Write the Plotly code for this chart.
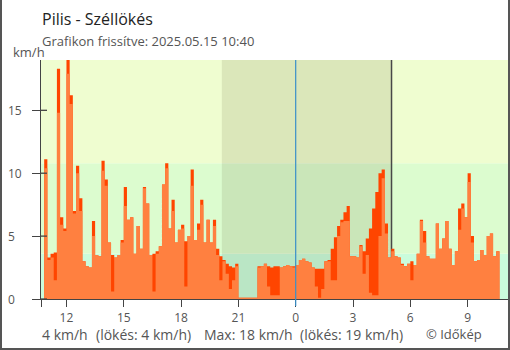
import pandas as pd
import plotly.graph_objects as go

TITLE = "Pilis - Széllökés"
SUBTITLE = "Grafikon frissítve: 2025.05.15 10:40"
CREDIT = "© Időkép"
UNIT = "km/h"

# 10-minute readings starting 2025-05-14 10:50 (km/h)
szel = [
    10.4, 3.1, 3.3, 1.5, 14.8, 5.9, 5.4, 17.9, 15.5, 6.8,
    10.0, 7.0, 3.0, 2.6, 2.5, 5.0, 3.5, 3.4, 10.2, 9.0,
    4.5, 0.6, 3.3, 3.5, 4.5, 7.4, 6.3, 6.5, 3.6, 5.8,
    4.0, 8.8, 7.6, 3.5, 0.6, 3.6, 4.2, 9.1, 10.4, 5.6,
    7.0, 4.5, 5.5, 5.6, 1.0, 5.0, 9.0, 4.7, 5.5, 7.5,
    4.5, 6.3, 4.5, 5.8, 3.5, 1.5, 3.0, 2.0, 0.8, 1.5,
    2.6, 0.1, 0.1, 0.1, 0.1, 0.1, 0.1, 2.5, 2.6, 2.8,
    1.0, 0.3, 0.3, 0.3, 2.5, 2.6, 2.7, 2.6, 2.5, 2.7,
    3.1, 3.2, 3.0, 2.9, 2.5, 1.0, 0.1, 0.8, 3.0, 3.0,
    1.5, 1.5, 5.0, 6.1, 6.2, 6.2, 3.4, 3.4, 3.3, 4.2,
    2.0, 3.5, 0.5, 0.3, 0.3, 5.0, 9.6, 5.2, 3.3, 3.8,
    3.4, 3.3, 2.7, 2.6, 2.8, 1.5, 2.7, 3.6, 6.2, 4.5,
    3.4, 3.2, 3.2, 6.0, 4.0, 4.8, 6.2, 4.0, 2.7, 3.8,
    5.5, 7.2, 6.5, 9.3, 4.5, 3.0, 3.1, 3.9, 3.5, 5.0,
    5.2, 3.4, 3.8,
]
lokes = [
    11.1, 3.3, 3.6, 3.7, 18.3, 6.5, 5.6, 19.0, 16.2, 7.0,
    10.6, 8.0, 3.0, 2.6, 2.5, 6.2, 3.5, 3.4, 11.0, 9.5,
    4.5, 3.5, 3.3, 3.5, 4.7, 8.9, 6.3, 6.5, 3.6, 5.8,
    4.0, 8.9, 7.6, 3.5, 3.6, 3.8, 4.2, 9.1, 10.8, 5.6,
    7.9, 4.5, 5.5, 5.9, 4.6, 5.0, 10.3, 4.7, 6.0, 7.9,
    4.5, 6.3, 4.5, 6.3, 4.0, 3.4, 3.1, 2.8, 2.6, 2.5,
    2.8, 0.1, 0.1, 0.1, 0.1, 0.1, 0.1, 2.6, 2.6, 2.8,
    2.6, 2.5, 2.6, 2.6, 2.5, 2.6, 2.7, 2.6, 2.6, 2.7,
    3.1, 3.2, 3.0, 2.9, 2.5, 2.4, 2.4, 2.4, 3.0, 3.1,
    4.0, 4.9, 5.8, 6.3, 6.9, 7.4, 3.4, 3.4, 3.3, 4.3,
    3.8, 4.8, 5.6, 7.2, 8.5, 10.0, 10.3, 6.0, 3.3, 4.0,
    3.4, 3.3, 2.8, 2.6, 2.8, 3.0, 2.7, 3.6, 6.3, 5.4,
    3.4, 3.2, 3.2, 6.0, 4.0, 4.8, 6.2, 4.0, 2.7, 3.8,
    7.2, 7.6, 6.5, 10.0, 5.0, 3.0, 3.1, 3.9, 3.5, 5.0,
    5.2, 3.4, 3.8,
]

hour_ticks = ["2025-05-14 12:00", "2025-05-14 15:00", "2025-05-14 18:00",
              "2025-05-14 21:00", "2025-05-15 00:00", "2025-05-15 03:00",
              "2025-05-15 06:00", "2025-05-15 09:00"]
hour_labels = ["12", "15", "18", "21", "0", "3", "6", "9"]
y_ticks = [0, 5, 10, 15]

x_range = ["2025-05-14 10:40", "2025-05-15 11:10"]
sunset = "2025-05-14 20:08"
sunrise = "2025-05-15 05:01"
midnight = "2025-05-15 00:00"

# wind-strength bands (1 m/s and 3 m/s thresholds)
bands = [(0, 3.6, "#cafcdc"), (3.6, 10.8, "#dcfccf"), (10.8, 19, "#effdd0")]

times = pd.date_range("2025-05-14 10:50", periods=len(szel) + 1, freq="10min")

fig = go.Figure()
for vals, col in ((lokes, "#ff4500"), (szel, "#ff8040")):
    fig.add_trace(go.Scatter(
        x=times, y=vals + [vals[-1]], mode="lines",
        line=dict(width=0, shape="hv"), fill="tozeroy", fillcolor=col,
        hoverinfo="skip", showlegend=False,
    ))

L, R, T, B = 41, 1, 60, 51
W, H = 510, 350
pw, ph = W - L - R, H - T - B


def px(x):
    return (x - L) / pw


def py(y):
    return (H - B - y) / ph


shapes = []
for y0, y1, col in bands:
    shapes.append(dict(type="rect", xref="paper", yref="y", x0=0, x1=1, y0=y0, y1=y1,
                       fillcolor=col, line=dict(width=0), layer="below"))
shapes.append(dict(type="rect", xref="x", yref="paper", x0=sunset, x1=sunrise, y0=0, y1=1,
                   fillcolor="rgba(50,40,0,0.1)", line=dict(width=0), layer="below"))
shapes.append(dict(type="line", xref="x", yref="paper", x0=sunrise, x1=sunrise, y0=0, y1=1,
                   line=dict(color="#484848", width=1.5), layer="below"))
shapes.append(dict(type="line", xref="x", yref="paper", x0=midnight, x1=midnight,
                   y0=-7 / ph, y1=1, line=dict(color="#3a8fc8", width=1.2), layer="above"))
# inner halves of the y ticks
for v in y_ticks:
    shapes.append(dict(type="line", xref="paper", yref="y", x0=0, x1=6 / pw, y0=v, y1=v,
                       line=dict(color="#444", width=1.3), layer="above"))
# outer frame
frame = dict(color="#555", width=2)
shapes += [
    dict(type="line", xref="paper", yref="paper", x0=px(1), x1=px(1), y0=py(0), y1=py(H), line=frame),
    dict(type="line", xref="paper", yref="paper", x0=px(W - 1), x1=px(W - 1), y0=py(0), y1=py(H), line=frame),
    dict(type="line", xref="paper", yref="paper", x0=px(0), x1=px(W), y0=py(H - 1), y1=py(H - 1), line=frame),
]

font = "Open Sans"
grey = "#555"
ann = [
    dict(text=TITLE, x=px(40), y=py(19), font=dict(size=16, color="#222")),
    dict(text=SUBTITLE, x=px(40), y=py(41), font=dict(size=13, color=grey)),
    dict(text=UNIT, x=px(11), y=py(52), font=dict(size=13, color=grey)),
    dict(text=CREDIT, x=px(424), y=py(333.5), font=dict(size=13, color=grey)),
]
now_w, now_g = round(szel[-1]), round(lokes[-1])
max_w, max_g = round(max(szel)), round(max(lokes))
for txt, xp in ((f"{now_w} km/h", 40), (f"(lökés: {now_g} km/h)", 94),
                (f"Max: {max_w} km/h", 202), (f"(lökés: {max_g} km/h)", 298)):
    ann.append(dict(text=txt, x=px(xp), y=py(334), font=dict(size=14, color=grey)))
for a in ann:
    a.update(xref="paper", yref="paper", xanchor="left", yanchor="middle",
             showarrow=False)
    a["font"]["family"] = font
for v in y_ticks:
    ann.append(dict(text=str(v), xref="paper", yref="y", x=px(6), y=v, xanchor="left",
                    yanchor="middle", showarrow=False,
                    font=dict(family=font, size=12, color=grey)))

fig.update_layout(
    width=W, height=H, margin=dict(l=L, r=R, t=T, b=B),
    paper_bgcolor="white", plot_bgcolor="white",
    showlegend=False, hovermode=False,
    shapes=shapes, annotations=ann,
    font=dict(family=font, color=grey),
    xaxis=dict(type="date", range=x_range, showgrid=False, zeroline=False,
               showline=True, linecolor="#444", linewidth=1.3,
               ticks="outside", ticklen=7, tickwidth=1.3, tickcolor="#444",
               tickvals=[x_range[0]] + hour_ticks, ticktext=[""] + hour_labels,
               tickfont=dict(size=12, color=grey, family=font)),
    yaxis=dict(range=[0, 19], showgrid=False, zeroline=False,
               showline=True, linecolor="#444", linewidth=1.3,
               ticks="outside", ticklen=8, tickwidth=1.3, tickcolor="#444",
               tickvals=y_ticks, showticklabels=False),
)

fig.write_html("out.html", config={"displayModeBar": False})
